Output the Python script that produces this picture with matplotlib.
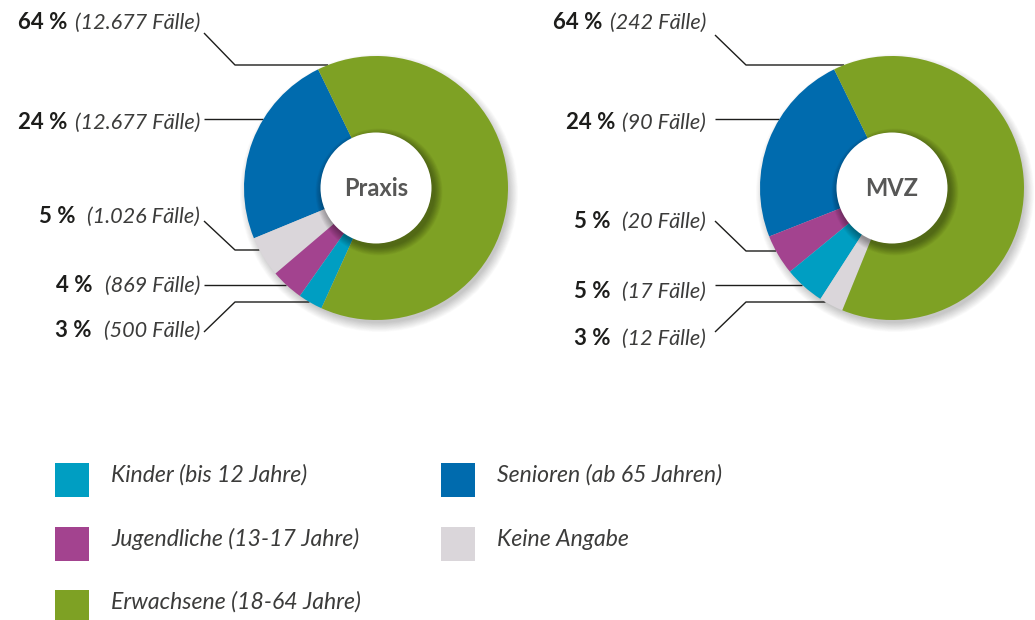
import numpy as np
import matplotlib.pyplot as plt
from matplotlib.patches import Circle, Rectangle

W, H = 1035, 620
FONT = ['Lato', 'DejaVu Sans']
plt.rcParams['font.family'] = FONT

# categories / colours
cat_names = ['Kinder (bis 12 Jahre)', 'Jugendliche (13-17 Jahre)', 'Erwachsene (18-64 Jahre)',
             'Senioren (ab 65 Jahren)', 'Keine Angabe']
cat_colors = ['#009ec2', '#a3438f', '#7ea124', '#006bae', '#dad6da']

# Praxis, in wedge order (counterclockwise from the top)
praxis_cats = [3, 4, 1, 0, 2]
praxis_pct = [24, 5, 4, 3, 64]
praxis_faelle = ['12.677', '1.026', '869', '500', '12.677']

# MVZ
mvz_cats = [3, 1, 0, 4, 2]
mvz_pct = [24, 5, 5, 3, 64]
mvz_faelle = ['90', '20', '17', '12', '242']

R, R_IN = 132, 55.5

fig = plt.figure(figsize=(W / 100, H / 100), dpi=100)
ax = fig.add_axes([0, 0, 1, 1])


def Y(y):
    return H - y


def donut(cx, cy, pct, cats, title):
    # soft drop shadow behind the ring
    for i in range(14):
        ax.add_patch(Circle((cx + 3, Y(cy) - 5), R + 7 - i * 0.7, color='black',
                            alpha=0.016, lw=0, zorder=1))
    ax.pie(pct, colors=[cat_colors[c] for c in cats], startangle=116, center=(cx, Y(cy)),
           radius=R, counterclock=True, wedgeprops=dict(lw=0, zorder=2))
    # shadow of the white centre
    for i in range(12):
        ax.add_patch(Circle((cx + 3, Y(cy) - 4), R_IN + 8 - i * 0.7, color='black',
                            alpha=0.03, lw=0, zorder=3))
    ax.add_patch(Circle((cx, Y(cy)), R_IN, color='white', lw=0, zorder=4))
    ax.text(cx, Y(cy), title, ha='center', va='center', fontsize=17, fontweight='bold',
            color='#575756', zorder=5)


def labels(cx, cy, pct, faelle, xr, x0, xk, rows):
    renderer = fig.canvas.get_renderer()
    for p, f, (base, y0, yk) in zip(pct, faelle, rows):
        t = ax.text(xr, Y(base), f'({f} Fälle)', ha='right', va='baseline', fontsize=15.6,
                    style='italic', fontweight='normal', color='#3c3c3b')
        bb = t.get_window_extent(renderer)
        gap = 7 if p >= 10 else 12
        ax.text(bb.x0 - gap, Y(base), f'{p} %', ha='right', va='baseline', fontsize=16,
                fontweight='bold', color='#1d1d1b')
        xe = cx - np.sqrt(R ** 2 - (yk - cy) ** 2)
        if y0 == yk:
            xs, ys = [x0, xe], [Y(y0), Y(yk)]
        else:
            xs, ys = [x0, xk, xe], [Y(y0), Y(yk), Y(yk)]
        ax.plot(xs, ys, color='#1d1d1b', lw=1.0, zorder=1.5, solid_capstyle='butt')


donut(376, 188, praxis_pct, praxis_cats, 'Praxis')
donut(892, 188, mvz_pct, mvz_cats, 'MVZ')

ax.set_xlim(0, W)
ax.set_ylim(0, H)
ax.set_aspect('auto')
ax.axis('off')

# label rows (baseline, line start y, line knee y) in wedge order
labels(376, 188, praxis_pct, praxis_faelle, 200, 204, 235,
       [(129, 119, 119), (223, 221, 250), (292, 285, 285), (337, 332, 302), (29, 33, 65)])
labels(892, 188, mvz_pct, mvz_faelle, 706, 715, 746,
       [(129, 119, 119), (228, 221, 251), (298, 285, 285), (345, 332, 302), (29, 35, 65)])

# legend
leg_pos = [(55, 463), (55, 526.5), (55, 590), (441, 463), (441, 526.5)]
for (lx, ly), name, col in zip(leg_pos, cat_names, cat_colors):
    ax.add_patch(Rectangle((lx, Y(ly + 34)), 34, 34, color=col, lw=0))
    ax.text(lx + 56, Y(ly + 19), name, ha='left', va='baseline', fontsize=16.6,
            style='italic', fontweight='normal', color='#3c3c3b')

fig.savefig('out.png', dpi=100, facecolor='white')
